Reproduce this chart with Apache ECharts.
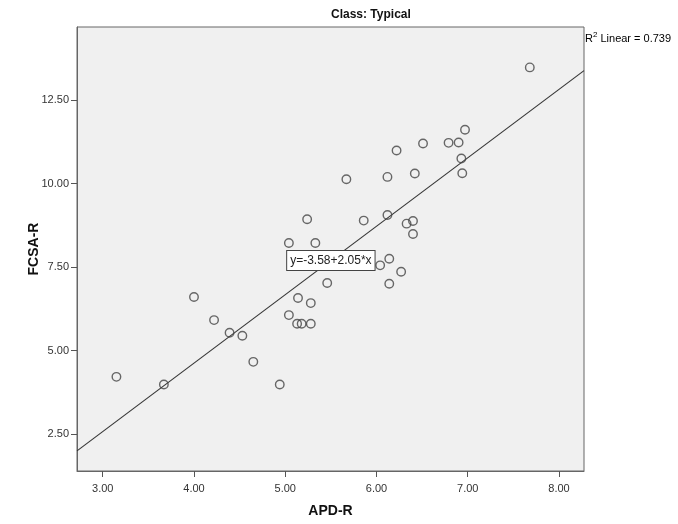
<!DOCTYPE html>
<html>
<head>
<meta charset="utf-8">
<script src="https://cdn.jsdelivr.net/npm/echarts@6/dist/echarts.min.js"></script>
<style>
  html, body { margin: 0; padding: 0; background: #fff; }
  #chart { width: 678px; height: 524px; }
</style>
</head>
<body>
<div id="chart"></div>
<script>
// APD-R vs FCSA-R, class Typical
const apd = [
  7.68, 6.97, 6.51, 6.79, 6.90, 6.22, 6.93, 5.67, 6.12, 6.42, 6.94,
  5.24, 5.86, 6.12, 6.40, 6.33, 6.40, 5.04, 5.33, 6.04, 6.14, 6.27,
  5.46, 6.14, 5.14, 5.28, 4.00, 4.22, 5.04, 5.13, 5.18, 5.28, 4.39,
  4.53, 4.65, 4.94, 3.15, 3.67
];
const fcsa = [
  13.48, 11.61, 11.20, 11.22, 11.23, 10.99, 10.75, 10.13, 10.20, 10.30, 10.31,
  8.93, 8.89, 9.06, 8.88, 8.80, 8.49, 8.22, 8.22, 7.55, 7.75, 7.36,
  7.02, 7.00, 6.57, 6.42, 6.60, 5.91, 6.06, 5.80, 5.80, 5.80, 5.53,
  5.44, 4.66, 3.98, 4.21, 3.98
];
const xTicks = [3, 4, 5, 6, 7, 8];
const yTicks = [2.5, 5, 7.5, 10, 12.5];
const fit = [-3.58, 2.05]; // intercept, slope
const rSquared = 0.739;

const xMin = 2.718, xMax = 8.274;
const yMin = 1.39, yMax = 14.69;

const points = apd.map((x, i) => [x, fcsa[i]]);
const fitLine = [xMin, xMax].map(x => [x, fit[0] + fit[1] * x]);
const eqX = 5.5;

const chart = echarts.init(document.getElementById('chart'));
const font = 'Liberation Sans, Arial, sans-serif';

chart.setOption({
  animation: false,
  textStyle: { fontFamily: font },
  grid: {
    left: 77, top: 27, right: 94, bottom: 53,
    outerBoundsMode: 'none',
    show: true,
    backgroundColor: '#f0f0f0',
    borderColor: '#666',
    borderWidth: 1
  },
  graphic: [
    {
      type: 'text', left: 331, top: 9,
      style: {
        text: 'Class: Typical', x: 0, align: 'center',
        font: 'bold 12px ' + font, fill: '#111'
      }
    },
    {
      type: 'text', left: 585, top: 31,
      style: {
        text: '{b|R}{s|2}{b| Linear = ' + rSquared.toFixed(3) + '}',
        rich: {
          b: { fontSize: 11, fontFamily: font, color: '#111', verticalAlign: 'bottom' },
          s: { fontSize: 8, fontFamily: font, color: '#111', verticalAlign: 'top', padding: [0, 0, 5, 0] }
        }
      }
    }
  ],
  xAxis: {
    type: 'value', min: xMin, max: xMax,
    name: 'APD-R', nameLocation: 'middle', nameGap: 33, nameMoveOverlap: false,
    nameTextStyle: { fontSize: 14, fontWeight: 'bold', color: '#111', fontFamily: font },
    axisLine: { show: true, lineStyle: { color: '#666', width: 1 } },
    axisTick: { show: true, length: 6, lineStyle: { color: '#555' }, customValues: xTicks },
    axisLabel: {
      fontSize: 11, color: '#333', margin: 12, customValues: xTicks,
      formatter: v => v.toFixed(2)
    },
    splitLine: { show: false }
  },
  yAxis: {
    type: 'value', min: yMin, max: yMax,
    name: 'FCSA-R', nameLocation: 'middle', nameGap: 36, nameMoveOverlap: false,
    nameTextStyle: { fontSize: 14, fontWeight: 'bold', color: '#111', fontFamily: font },
    axisLine: { show: true, lineStyle: { color: '#666', width: 1 } },
    axisTick: { show: true, length: 6, lineStyle: { color: '#555' }, customValues: yTicks },
    axisLabel: {
      fontSize: 11, color: '#333', margin: 8, customValues: yTicks,
      formatter: v => v.toFixed(2)
    },
    splitLine: { show: false }
  },
  series: [
    {
      type: 'line',
      data: fitLine,
      symbol: 'none',
      lineStyle: { color: '#333', width: 1.1 },
      z: 2,
      markPoint: {
        symbol: 'rect', symbolSize: 0,
        data: [{ coord: [eqX, fit[0] + fit[1] * eqX] }],
        label: {
          show: true, position: 'inside',
          formatter: 'y=' + fit[0].toFixed(2) + '+' + fit[1].toFixed(2) + '*x',
          fontSize: 12, color: '#222', fontFamily: font,
          backgroundColor: '#fff', borderColor: '#444', borderWidth: 1,
          padding: [4, 3, 3, 3]
        },
        z: 5
      }
    },
    {
      type: 'scatter',
      data: points,
      symbol: 'circle', symbolSize: 8.5,
      itemStyle: { color: 'rgba(0,0,0,0)', borderColor: '#444', borderWidth: 1.4 },
      z: 3
    }
  ]
});
</script>
</body>
</html>
